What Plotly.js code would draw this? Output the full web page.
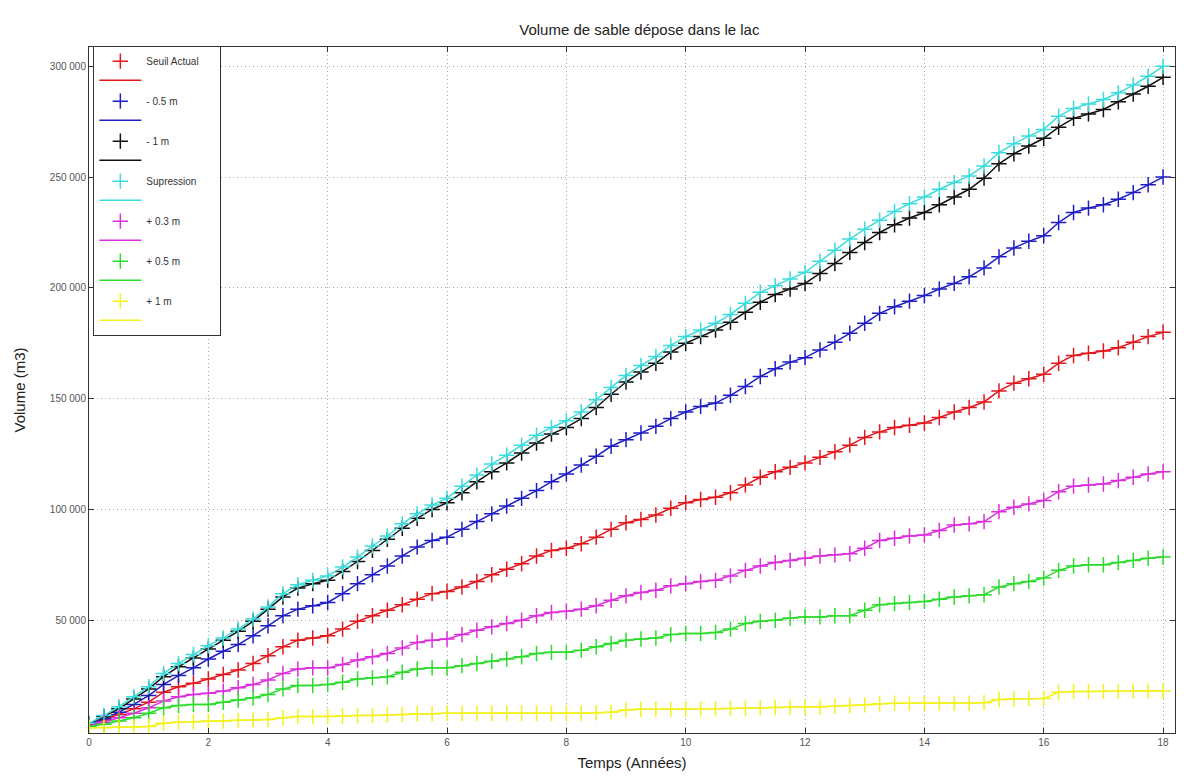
<!DOCTYPE html>
<html>
<head>
<meta charset="utf-8">
<script src="https://cdn.plot.ly/plotly-3.0.1.min.js"></script>
<style>
html,body{margin:0;padding:0;background:#fff;}
#chart{width:1184px;height:776px;}
</style>
</head>
<body>
<div id="chart"></div>
<script>
// Time in years
const years = [0,0.25,0.5,0.75,1,1.25,1.5,1.75,2,2.25,2.5,2.75,3,3.25,3.5,3.75,4,4.25,4.5,4.75,5,5.25,5.5,5.75,6,6.25,6.5,6.75,7,7.25,7.5,7.75,8,8.25,8.5,8.75,9,9.25,9.5,9.75,10,10.25,10.5,10.75,11,11.25,11.5,11.75,12,12.25,12.5,12.75,13,13.25,13.5,13.75,14,14.25,14.5,14.75,15,15.25,15.5,15.75,16,16.25,16.5,16.75,17,17.25,17.5,17.75,18];

const seuilActual = [3000,5000,7500,10000,13000,17500,20000,21500,23500,25500,27500,30500,34000,38000,41000,42000,43000,46000,49500,52000,54500,57000,59500,62000,63000,65000,67500,70500,73000,75500,79000,81500,82500,84500,87500,91000,94000,95500,97500,100500,103000,104500,105500,107500,111000,114500,117000,119000,121000,123500,126000,129000,132500,135000,137000,138000,139000,141500,144000,146000,148500,153500,157000,159000,161000,166000,169500,170500,171500,173000,175500,178000,180000];

const moins05 = [3000,5500,8500,12000,16000,21000,25000,28500,32500,36000,39000,43000,47500,52000,55000,56500,58000,62000,66500,70500,74500,79000,83000,86000,87500,91000,94500,98000,101500,105000,108500,112500,116000,120000,124000,128500,131500,134500,137500,141000,144000,146500,148000,151500,155500,160000,163500,166500,168500,172000,175500,179500,184000,188500,191500,194000,196500,199500,202000,205000,209000,214000,218000,221000,223500,229500,234000,236000,237500,240000,243000,246500,250000];

const moins1 = [3200,6500,10000,14500,19000,24500,29000,33000,37000,41000,45000,49500,55000,60500,64500,66500,68000,72000,76500,81500,86500,91500,96000,100000,103000,107500,112500,117000,121000,125500,130000,134000,137000,141000,146000,152000,157500,162000,166000,171000,175000,178000,181000,184500,189000,193500,197000,199500,202000,206500,211000,216000,220500,225000,228500,231500,234000,237500,241000,244500,249500,256000,260500,264000,267500,272500,276500,278500,280500,284000,287500,291000,295000];

const supression = [3500,7000,11000,15500,20000,26000,30500,34500,38500,42000,46000,50500,56000,62000,66000,68000,70000,74000,78500,83500,88000,93500,98000,102000,105000,110500,115500,120500,124500,129000,133500,137000,140000,144000,149500,155000,160500,165000,169000,174000,178000,181000,184000,188000,193000,198000,201000,204000,207000,212000,217000,222000,226500,230500,234500,238000,241000,244500,247500,250500,255000,261000,265000,268500,271500,277500,281000,283000,285000,288000,291500,295500,300000];

const plus03 = [2500,4000,6000,8000,10500,13500,15500,16500,17000,18000,19500,21000,23000,26000,28000,28500,28500,30000,32000,33500,35000,37500,40000,41000,41500,43500,45500,47000,48500,50000,52000,53500,54000,55000,56500,59000,61000,62500,63500,65500,66500,67500,68000,70000,72500,74500,76000,77000,78000,79000,79500,80000,82500,86000,87000,88000,88500,90500,93000,93500,94500,99000,101000,102500,104000,108000,110500,111000,111500,113000,114500,116000,117000];

const plus05 = [2000,3000,4500,6000,8000,10500,11500,12000,12000,13000,14000,15000,16500,19000,20500,20500,21000,22000,23500,24000,24500,26500,28000,28500,28500,29500,30500,31500,32500,33500,35000,35500,35500,36500,38000,39500,41000,41500,42000,43500,44000,44000,44500,46000,48500,49500,50000,51000,51500,51500,52000,52000,54500,57000,57500,58000,58500,59500,60500,61000,61500,65000,66500,67500,69000,72500,74500,75000,75000,76000,77000,78000,78500];

const plus1 = [1500,1500,1800,1800,2000,3500,4000,4200,4500,4500,4800,5000,5200,6000,6500,6500,6500,6800,7000,7000,7200,7500,7800,7800,8000,8000,8000,8000,8000,8000,8000,8000,8000,8000,8200,8500,9500,9800,9800,9800,9900,10000,10000,10200,10300,10500,10600,10700,10700,10800,11200,11500,11800,12300,12500,12500,12500,12500,12500,12500,12800,14200,14500,14600,14700,17500,17800,17800,17900,17900,18000,18000,18000];

const seriesNames = ['Seuil Actual', '- 0.5 m', '- 1 m', 'Supression', '+ 0.3 m', '+ 0.5 m', '+ 1 m'];
const seriesData = [seuilActual, moins05, moins1, supression, plus03, plus05, plus1];
const seriesColors = ['#e3161c', '#1e1ec4', '#111111', '#3adcdc', '#dc2edc', '#2cdc2c', '#f2f21c'];

const xTickVals = [0,2,4,6,8,10,12,14,16,18];
const xTickText = ['0','2','4','6','8','10','12','14','16','18'];
const yTickVals = [50000,100000,150000,200000,250000,300000];
const yTickText = ['50 000','100 000','150 000','200 000','250 000','300 000'];

const pad = '\u00a0'.repeat(6);

const traces = [];
seriesData.forEach((vals, i) => {
  traces.push({
    type: 'scatter',
    mode: 'lines',
    name: ' ',
    legendgroup: 'g' + i,
    legendrank: i * 2 + 2,
    x: years,
    y: vals,
    line: {color: seriesColors[i], width: 1.5}
  });
  traces.push({
    type: 'scatter',
    mode: 'markers',
    name: i === 0 ? seriesNames[i] + pad : seriesNames[i],
    legendgroup: 'g' + i,
    legendrank: i * 2 + 1,
    x: years,
    y: vals,
    marker: {symbol: 'cross-thin', size: 11, color: seriesColors[i], line: {color: seriesColors[i], width: 1.5}}
  });
});

const axisCommon = {
  showline: true,
  linecolor: '#333',
  linewidth: 1,
  mirror: 'allticks',
  ticks: 'inside',
  ticklen: 5,
  tickcolor: '#333',
  showgrid: true,
  gridcolor: '#a8a8a8',
  griddash: '1px,3px',
  gridwidth: 1,
  zeroline: false,
  tickfont: {family: 'Liberation Sans, Arial, sans-serif', size: 10, color: '#555'}
};

const layout = {
  width: 1184,
  height: 776,
  paper_bgcolor: '#fff',
  plot_bgcolor: '#fff',
  margin: {l: 89, r: 9, t: 47, b: 43},
  font: {family: 'Liberation Sans, Arial, sans-serif', color: '#222'},
  title: {
    text: 'Volume de sable dépose dans le lac',
    font: {size: 15, color: '#222'},
    x: 0.54, xanchor: 'center', y: 0.962, yanchor: 'middle'
  },
  xaxis: Object.assign({}, axisCommon, {
    range: [0, 18.2],
    tickvals: xTickVals,
    ticktext: xTickText,
    title: {text: 'Temps (Années)', font: {size: 15, color: '#222'}, standoff: 10}
  }),
  yaxis: Object.assign({}, axisCommon, {
    range: [-900, 308700],
    tickvals: yTickVals,
    ticktext: yTickText,
    title: {text: 'Volume (m3)', font: {size: 15, color: '#222'}, standoff: 20}
  }),
  legend: {
    x: 0.004, y: 1.002, xanchor: 'left', yanchor: 'top',
    bgcolor: '#fff',
    bordercolor: '#333',
    borderwidth: 1,
    font: {size: 10, color: '#333'},
    tracegroupgap: 2,
    itemwidth: 42,
    traceorder: 'grouped'
  },
  showlegend: true
};

Plotly.newPlot('chart', traces, layout, {displayModeBar: false, staticPlot: true});
</script>
</body>
</html>
